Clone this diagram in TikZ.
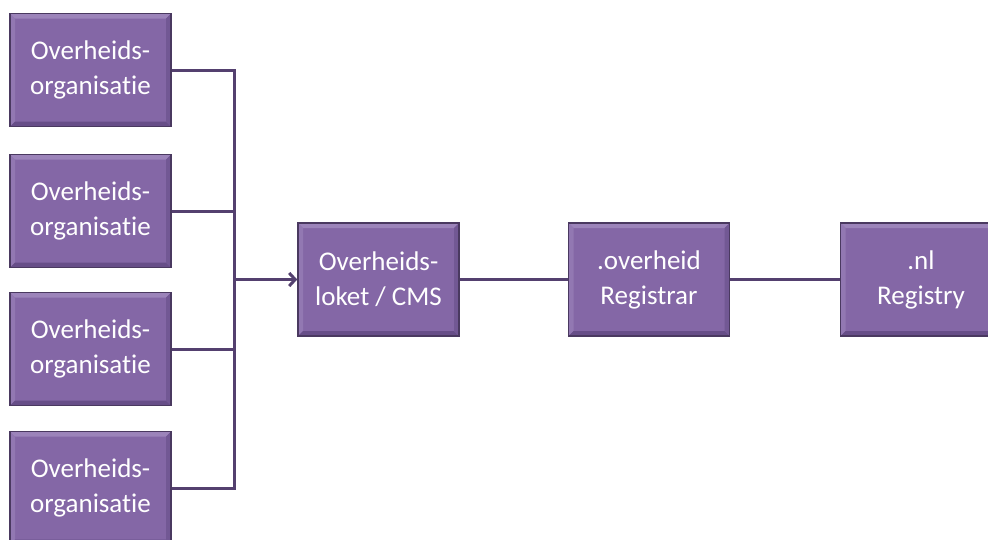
\documentclass[tikz,border=0pt]{standalone}
\usepackage{fontspec}
\setmainfont{Carlito}[Ligatures=NoCommon]
\usetikzlibrary{arrows.meta}
\definecolor{boxfill}{HTML}{8467A6}
\definecolor{boxedge}{HTML}{4A3960}
\definecolor{boxlight}{HTML}{9C84BA}
\definecolor{boxdark}{HTML}{674E88}
\definecolor{wire}{HTML}{54406F}
\tikzset{
  bevelbox/.style={
    draw=boxedge, line width=1.5pt, fill=boxfill,
    minimum width=161pt, minimum height=113pt, inner sep=0pt,
    text=white, align=center,
    font=\fontsize{27}{35}\selectfont,
    path picture={
      \fill[boxlight] (path picture bounding box.north west) -- (path picture bounding box.north east)
        -- ([xshift=-5pt,yshift=-5pt]path picture bounding box.north east)
        -- ([xshift=5pt,yshift=-5pt]path picture bounding box.north west) -- cycle;
      \fill[boxlight!60!boxfill] (path picture bounding box.north west) -- ([xshift=5pt,yshift=-5pt]path picture bounding box.north west)
        -- ([xshift=5pt,yshift=5pt]path picture bounding box.south west) -- (path picture bounding box.south west) -- cycle;
      \fill[boxdark] (path picture bounding box.south west) -- (path picture bounding box.south east)
        -- ([xshift=-5pt,yshift=5pt]path picture bounding box.south east)
        -- ([xshift=5pt,yshift=5pt]path picture bounding box.south west) -- cycle;
      \fill[boxdark!60!boxfill] (path picture bounding box.north east) -- ([xshift=-5pt,yshift=-5pt]path picture bounding box.north east)
        -- ([xshift=-5pt,yshift=5pt]path picture bounding box.south east) -- (path picture bounding box.south east) -- cycle;
    }},
  wireline/.style={draw=wire, line width=3pt},
  arrowline/.style={wireline, -{Straight Barb[length=6pt,width=13pt,line width=3pt]}}
}
\begin{document}
\begin{tikzpicture}[x=1pt,y=-1pt]
  \useasboundingbox (0,0) rectangle (988,539);
  \fill[white] (0,0) rectangle (988,539);

  % organisations on the left
  \node[bevelbox] (o1) at (90.5,70)  {Overheids-\\organisatie};
  \node[bevelbox] (o2) at (90.5,211) {Overheids-\\organisatie};
  \node[bevelbox] (o3) at (90.5,349) {Overheids-\\organisatie};
  \node[bevelbox] (o4) at (90.5,488) {Overheids-\\organisatie};

  % chain to the registry
  \node[bevelbox] (cms) at (378.5,279.5) {Overheids-\\loket / CMS};
  \node[bevelbox] (reg) at (649,279.5)   {.overheid\\Registrar};
  \node[bevelbox] (nl)  at (921,279.5)   {.nl\\Registry};

  % collecting bus
  \coordinate (bus) at (234,279.5);
  \draw[wireline] (o1.east) -- (o1.east -| bus) -- (o4.east -| bus) -- (o4.east);
  \draw[wireline] (o2.east) -- (o2.east -| bus);
  \draw[wireline] (o3.east) -- (o3.east -| bus);
  \draw[arrowline] (bus) -- (cms.west);

  \draw[wireline] (cms.east) -- (reg.west);
  \draw[wireline] (reg.east) -- (nl.west);
\end{tikzpicture}
\end{document}
